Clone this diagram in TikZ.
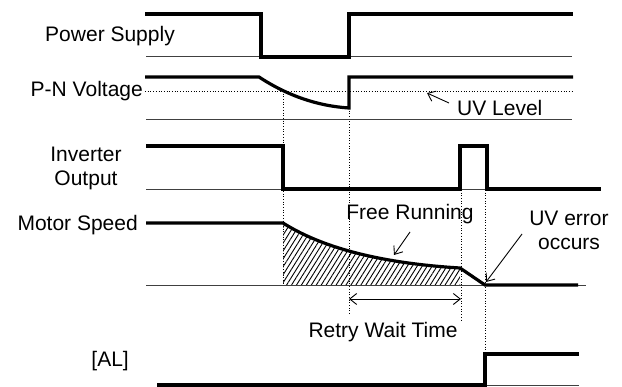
\documentclass[tikz,border=0pt]{standalone}
\usepackage{fontspec}
\setmainfont{Liberation Sans}
\usetikzlibrary{patterns.meta,arrows.meta}
\begin{document}
\begin{tikzpicture}[x=1pt,y=-1pt,
  wave/.style={line width=3.2pt, line join=miter},
  base/.style={line width=1pt, black!75},
  guide/.style={dotted, line width=0.7pt},
  pointer/.style={line width=0.9pt, -{Straight Barb[length=7pt,width=11pt]}},
  lbl/.style={font=\fontsize{21}{24}\selectfont, inner sep=0pt, text=black}]
\useasboundingbox (0,0) rectangle (622,387);

% hatched area under motor speed
\fill[pattern={Lines[angle=58,distance=4.2pt,line width=0.9pt]}]
  (283,223) .. controls (310,240) and (360,262) .. (460,268) -- (460,286) -- (283,286) -- cycle;

% guides
\draw[guide] (145,91) -- (572,91);
\draw[guide] (283,91) -- (283,286);
\draw[guide] (349,108) -- (349,315);
\draw[guide] (461,190) -- (461,320);
\draw[guide] (485,190) -- (485,354);

% baselines
\draw[base] (146,57) -- (572,57);
\draw[base] (146,120) -- (572,120);
\draw[base] (146,190) -- (600,190);
\draw[base] (146,286) -- (586,286);
\draw[base] (157,386) -- (579,386);

% Power Supply
\draw[wave] (145,14) -- (261,14) -- (261,57) -- (349,57) -- (349,14) -- (573,14);
% P-N Voltage
\draw[wave] (145,77) -- (259,77) .. controls (288,96) and (318,106) .. (349,108) -- (349,77) -- (573,77);
% Inverter Output
\draw[wave] (146,146) -- (283,146) -- (283,189) -- (460,189) -- (460,146) -- (487,146) -- (487,189) -- (601,189);
% Motor Speed
\draw[wave] (146,223) -- (283,223) .. controls (310,240) and (360,262) .. (460,268) -- (485,285) -- (578,285);
% AL
\draw[wave] (157,385) -- (485,385) -- (485,354) -- (579,354);

% labels
\node[lbl, anchor=east] (ps) at (175,36) {Power Supply};
\node[lbl, anchor=east] (pn) at (143,91) {P-N Voltage};
\node[lbl, align=center] (inv) at (86,168) {Inverter\\Output};
\node[lbl, anchor=east] (ms) at (138,225) {Motor Speed};
\node[lbl, anchor=east] (al) at (129,361) {[AL]};
\node[lbl, anchor=west] (uvl) at (457,108) {UV Level};
\node[lbl] (fr) at (410,214) {Free Running};
\node[lbl, align=center] (uve) at (569,230) {UV error\\occurs};
\node[lbl] (rwt) at (383,332) {Retry Wait Time};

% pointers
\coordinate (uvlt) at (449,103);
\coordinate (uvlh) at (427,93);
\draw[pointer] (uvlt) -- (uvlh);
\coordinate (frt) at (410,232);
\coordinate (frh) at (394,255);
\draw[pointer] (frt) -- (frh);
\coordinate (uvet) at (522,234);
\coordinate (uveh) at (486,282);
\draw[pointer] (uvet) -- (uveh);
\coordinate (rwa) at (349,299);
\coordinate (rwb) at (461,299);
\draw[line width=0.9pt, {Straight Barb[length=7pt,width=11pt]}-{Straight Barb[length=7pt,width=11pt]}] (rwa) -- (rwb);
\end{tikzpicture}
\end{document}
